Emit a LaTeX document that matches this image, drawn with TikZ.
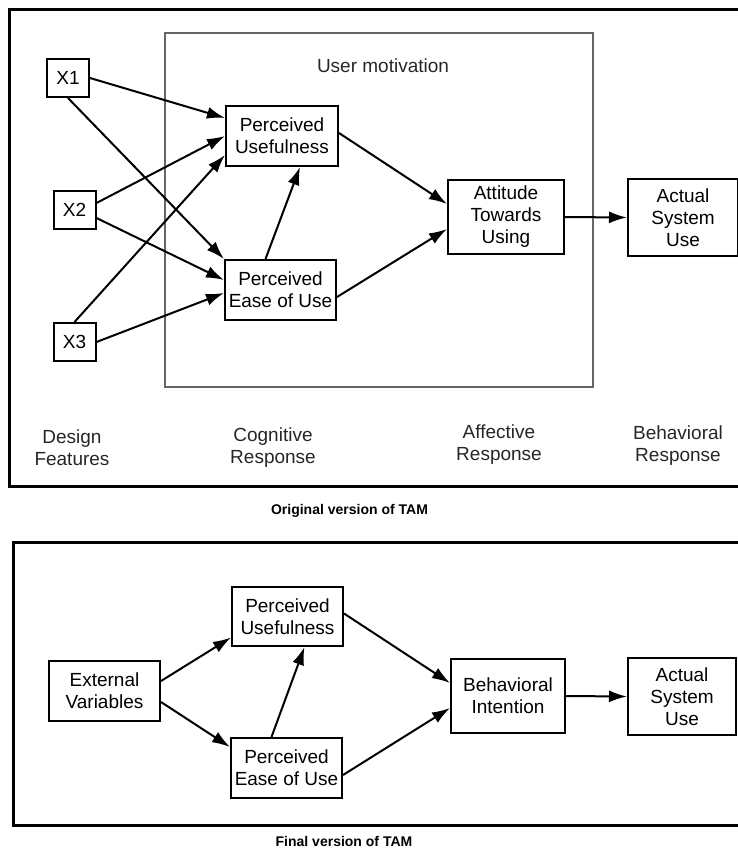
\documentclass[tikz,border=0pt]{standalone}
\usepackage{fontspec}
\setmainfont{Liberation Sans}
\usepackage{tikz}
\usetikzlibrary{arrows.meta,calc,positioning}

\begin{document}
\begin{tikzpicture}[x=0.5pt, y=-0.5pt,
    box/.style={draw, line width=1pt, inner sep=0pt, align=center,
        font=\fontsize{9.5}{11}\selectfont},
    lbl/.style={align=center, text=black!85, font=\fontsize{9.5}{11}\selectfont},
    captxt/.style={anchor=base, font=\fontsize{7}{8}\selectfont\bfseries},
    arr/.style={-{Latex[length=9pt,width=6pt]}, line width=1pt},
    frame/.style={line width=1.5pt}]
    \useasboundingbox (0,0) rectangle (738,852);
    \clip (0,0) rectangle (738,852);
    % original version
    \draw[frame] (9,9) rectangle (760,486);
    \draw[black!60, line width=0.75pt] (165,33) rectangle (593,387);
    \node[lbl] (motiv) at (383,66) {User motivation};
    \node[box, minimum width=21pt, minimum height=19pt] (X1) at (68,78) {X1};
    \node[box, minimum width=21pt, minimum height=19pt] (X2) at (74.5,210) {X2};
    \node[box, minimum width=21pt, minimum height=19pt] (X3) at (74.5,342) {X3};
    \node[box, minimum width=56pt, minimum height=30pt] (PU) at (282,136) {Perceived\\Usefulness};
    \node[box, minimum width=55.5pt, minimum height=30pt] (PEOU) at (280.5,290) {Perceived\\Ease of Use};
    \node[box, minimum width=58pt, minimum height=37pt] (ATU) at (506,217) {Attitude\\Towards\\Using};
    \node[box, minimum width=55pt, minimum height=38.5pt] (ASU) at (683,217.5) {Actual\\System\\Use};
    \node[lbl] (design) at (72,448) {Design\\Features};
    \node[lbl] (cogn) at (273,448) {Cognitive\\Response};
    \node[lbl] (affect) at (499,445) {Affective\\Response};
    \node[lbl] (behav) at (678,446) {Behavioral\\Response};
    \draw[arr] (X1.east) -- ($(PU.west)+(0,-18)$);
    \draw[arr] (X1.south) -- (PEOU.north west);
    \draw[arr] ($(X2.east)+(0,-7)$) -- (PU.west);
    \draw[arr] ($(X2.east)+(0,8)$) -- ($(PEOU.west)+(0,-10)$);
    \draw[arr] (X3.north) -- ($(PU.west)+(0,19)$);
    \draw[arr] (X3.east) -- ($(PEOU.west)+(0,3)$);
    \draw[arr] ($(PEOU.north)+(-15,0)$) -- ($(PU.south)+(18,0)$);
    \draw[arr] ($(PU.east)+(0,-3)$) -- ($(ATU.west)+(0,-13)$);
    \draw[arr] ($(PEOU.east)+(0,7)$) -- ($(ATU.west)+(0,12)$);
    \draw[arr] (ATU.east) -- (ASU.west);
    \node[captxt] (orig) at (349.5,514) {Original version of TAM};
    % final version
    \draw[frame] (13,542) rectangle (760,825);
    \node[box, minimum width=55.5pt, minimum height=30pt] (EV) at (104.5,691) {External\\Variables};
    \node[box, minimum width=55.5pt, minimum height=29.5pt] (PU2) at (287.5,616.5) {Perceived\\Usefulness};
    \node[box, minimum width=55.5pt, minimum height=30pt] (PEOU2) at (286.5,768) {Perceived\\Ease of Use};
    \node[box, minimum width=57pt, minimum height=37pt] (BI) at (508,696) {Behavioral\\Intention};
    \node[box, minimum width=54pt, minimum height=38.5pt] (ASU2) at (682,696.5) {Actual\\System\\Use};
    \draw[arr] ($(EV.east)+(0,-10)$) -- ($(PU2.west)+(0,21)$);
    \draw[arr] ($(EV.east)+(0,11)$) -- ($(PEOU2.west)+(0,-21)$);
    \draw[arr] ($(PEOU2.north)+(-15,0)$) -- ($(PU2.south)+(17,0)$);
    \draw[arr] ($(PU2.east)+(0,-3)$) -- ($(BI.west)+(0,-13)$);
    \draw[arr] ($(PEOU2.east)+(0,7)$) -- ($(BI.west)+(0,12)$);
    \draw[arr] (BI.east) -- (ASU2.west);
    \node[captxt] (final) at (344,846) {Final version of TAM};
\end{tikzpicture}
\end{document}
